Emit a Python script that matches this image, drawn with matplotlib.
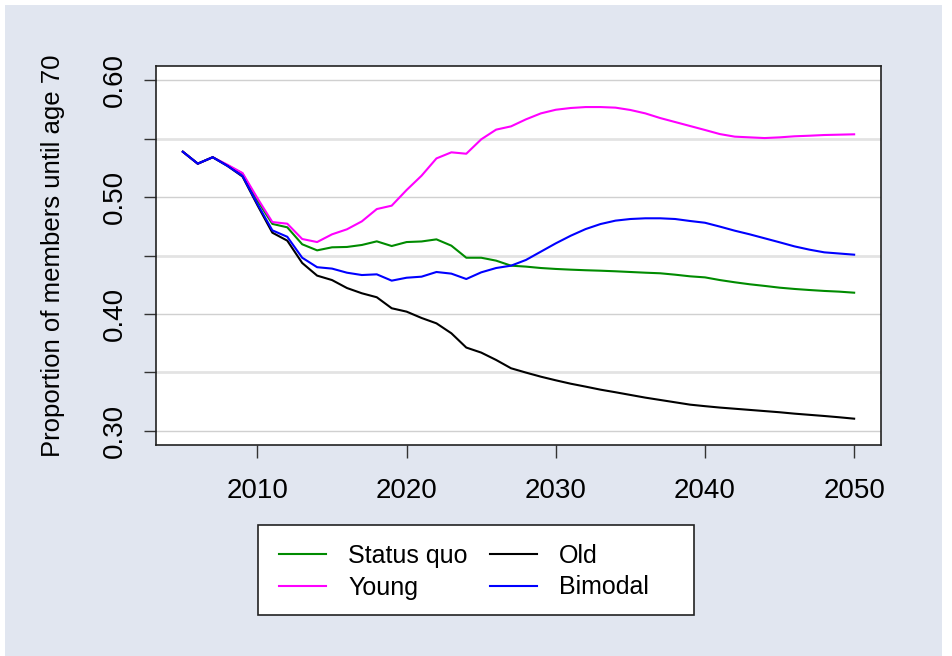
import matplotlib
matplotlib.use("Agg")
import matplotlib.pyplot as plt
from matplotlib.patches import Rectangle
import numpy as np

plt.rcParams['font.family'] = ['Liberation Sans', 'DejaVu Sans']

years = list(range(2005, 2051))

status_quo = [0.5387, 0.5285, 0.5340, 0.5270, 0.5200, 0.4970, 0.4770, 0.4741, 0.4596, 0.4544,
              0.4570, 0.4573, 0.4590, 0.4621, 0.4581, 0.4615, 0.4620, 0.4638, 0.4584, 0.4481,
              0.4481, 0.4456, 0.4413, 0.4405, 0.4393, 0.4385, 0.4379, 0.4374, 0.4370, 0.4365,
              0.4359, 0.4353, 0.4348, 0.4336, 0.4322, 0.4313, 0.4290, 0.4271, 0.4254, 0.4240,
              0.4225, 0.4214, 0.4205, 0.4197, 0.4191, 0.4182]
young = [0.5387, 0.5285, 0.5340, 0.5275, 0.5205, 0.4990, 0.4786, 0.4772, 0.4641, 0.4615,
         0.4681, 0.4724, 0.4792, 0.4897, 0.4926, 0.5060, 0.5182, 0.5330, 0.5382, 0.5370,
         0.5493, 0.5576, 0.5604, 0.5664, 0.5715, 0.5746, 0.5761, 0.5769, 0.5769, 0.5764,
         0.5744, 0.5715, 0.5675, 0.5641, 0.5607, 0.5573, 0.5538, 0.5516, 0.5510, 0.5504,
         0.5510, 0.5519, 0.5524, 0.5530, 0.5533, 0.5536]
old = [0.5387, 0.5285, 0.5340, 0.5265, 0.5175, 0.4930, 0.4695, 0.4627, 0.4436, 0.4328,
       0.4290, 0.4222, 0.4177, 0.4143, 0.4049, 0.4020, 0.3966, 0.3920, 0.3835, 0.3713,
       0.3670, 0.3607, 0.3536, 0.3499, 0.3464, 0.3433, 0.3404, 0.3379, 0.3353, 0.3331,
       0.3308, 0.3285, 0.3265, 0.3245, 0.3225, 0.3212, 0.3200, 0.3190, 0.3180, 0.3170,
       0.3160, 0.3148, 0.3138, 0.3128, 0.3117, 0.3105]
bimodal = [0.5387, 0.5285, 0.5340, 0.5265, 0.5180, 0.4940, 0.4715, 0.4660, 0.4481, 0.4400,
           0.4388, 0.4353, 0.4333, 0.4339, 0.4285, 0.4310, 0.4319, 0.4359, 0.4345, 0.4299,
           0.4356, 0.4393, 0.4413, 0.4462, 0.4533, 0.4604, 0.4669, 0.4726, 0.4769, 0.4798,
           0.4812, 0.4818, 0.4818, 0.4812, 0.4795, 0.4780, 0.4747, 0.4712, 0.4681, 0.4647,
           0.4613, 0.4578, 0.4550, 0.4527, 0.4517, 0.4507]

series_names = ["Status quo", "Young", "Old", "Bimodal"]
series_colors = ["#008B00", "#FF00FF", "#000000", "#0000FF"]

fig = plt.figure(figsize=(9.52, 6.56), dpi=100, facecolor="white")
# bluish panel behind everything
fig.patches.append(Rectangle((5 / 952, 0), 937 / 952, 651 / 656,
                             transform=fig.transFigure, facecolor="#E1E6F0",
                             edgecolor="none", zorder=-10))

ax = fig.add_axes([156 / 952, 1 - 445 / 656, 725 / 952, 379 / 656])
ax.set_facecolor("white")

for v in np.arange(0.30, 0.601, 0.05):
    if round(v * 100) % 10 == 0:
        ax.axhline(v, color="#D0D0D0", lw=1.0, zorder=1)
    else:
        ax.axhline(v, color="#E3E3E3", lw=2.0, zorder=1)

handles = []
for vals, name, col in zip([status_quo, young, old, bimodal], series_names, series_colors):
    h, = ax.plot(years, vals, color=col, lw=1.5, label=name, zorder=3)
    handles.append(h)

ax.set_xlim(2003.2, 2051.8)
ax.set_ylim(0.288, 0.612)
ax.set_xticks([2010, 2020, 2030, 2040, 2050])
ax.set_yticks([0.30, 0.35, 0.40, 0.45, 0.50, 0.55, 0.60])
ax.set_yticklabels(["0.30", "", "0.40", "", "0.50", "", "0.60"], rotation=90, va="center")
ax.tick_params(axis="x", length=9, width=1, pad=15, labelsize=20, color="#333333")
ax.tick_params(axis="y", length=9, width=1, pad=11, labelsize=20, color="#333333")
for sp in ax.spines.values():
    sp.set_color("#222222")
    sp.set_linewidth(1.2)

ax.set_ylabel("Proportion of members until age 70", fontsize=18.5, labelpad=27)

# legend frame drawn separately so its size can be set
fig.patches.append(Rectangle((258 / 952, 1 - 615 / 656), 436 / 952, 90 / 656,
                             transform=fig.transFigure, facecolor="white",
                             edgecolor="#222222", lw=1.2, zorder=5))
leg = fig.legend(handles, series_names, ncol=2, loc="upper left",
                 bbox_to_anchor=(279 / 952, 1 - 544 / 656), frameon=False,
                 fontsize=18, handlelength=1.88, handletextpad=0.88,
                 columnspacing=0.9, labelspacing=0.3, borderaxespad=0, borderpad=0)
leg.set_zorder(6)

fig.savefig("out.png", dpi=100, facecolor=fig.get_facecolor())
